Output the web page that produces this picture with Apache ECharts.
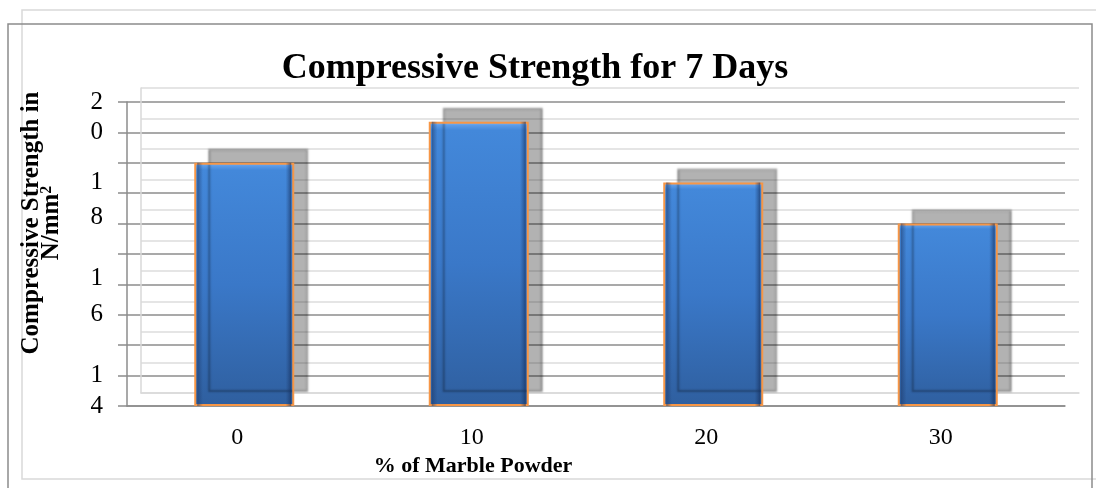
<!DOCTYPE html>
<html>
<head>
<meta charset="utf-8">
<script src="https://cdn.jsdelivr.net/npm/echarts@6/dist/echarts.min.js"></script>
<style>
html,body{margin:0;padding:0;background:#fff;}
#chart{width:1096px;height:488px;}
</style>
</head>
<body>
<div id="chart"></div>
<script>
// ---- data ----
const categories = ['0', '10', '20', '30'];
const strength7Days = [16.0, 18.7, 14.7, 12.0];
// tick labels as they appear on the axis, for ticks 0,2,4,...,20
const yTickLabels = ['4', '1', '', '6', '1', '', '8', '1', '', '0', '2'];
const titleText = 'Compressive Strength for 7 Days';
const xAxisTitle = '% of Marble Powder';
const yAxisTitleLine1 = 'Compressive Strength in';
const yAxisTitleLine2 = 'N/mm';

// ---- chart ----
const serif = '"Liberation Serif", "Times New Roman", serif';
// small vertical nudges (px, negative = up) of the broken tick labels
const labelNudge = {8: -6, 12: -6, 14: -11};
const rich = {};
function styleFor(v) {
  const s = labelNudge[v] || 0;
  const name = 'n' + (s < 0 ? 'u' + (-s) : 'd' + s);
  if (!rich[name]) {
    rich[name] = {
      fontFamily: serif, fontSize: 25, color: '#000', lineHeight: 16,
      padding: s < 0 ? [0, 0, -2 * s, 0] : [2 * s, 0, 0, 0]
    };
  }
  return name;
}
for (let i = 0; i < yTickLabels.length; i++) styleFor(i * 2);

const chart = echarts.init(document.getElementById('chart'), null, {renderer: 'canvas'});
const option = {
  animation: false,
  backgroundColor: '#fff',
  graphic: [
    {type: 'rect', shape: {x: 22, y: 10, width: 1100, height: 469}, style: {fill: 'none', stroke: '#d9d9d9', lineWidth: 1.5}, silent: true, z: -10},
    {type: 'rect', shape: {x: 8, y: 24, width: 1084, height: 500}, style: {fill: 'none', stroke: '#8c8c8c', lineWidth: 1.5}, silent: true, z: -9}
  ],
  title: {
    text: titleText,
    left: 535, top: 51, padding: 0, textAlign: 'center',
    textStyle: {fontFamily: serif, fontWeight: 'bold', fontSize: 36, color: '#000'}
  },
  grid: [
    {left: 127, right: 31, top: 102, bottom: 82},
    {left: 141, right: 17, top: 88, bottom: 95}
  ],
  xAxis: [
    {
      type: 'category', gridIndex: 0, data: categories,
      axisLine: {lineStyle: {color: '#8c8c8c', width: 1.5}},
      axisTick: {show: false},
      axisLabel: {fontFamily: serif, fontSize: 24, color: '#000', margin: 20, padding: [0, 14, 0, 0]},
      name: xAxisTitle, nameLocation: 'middle', nameGap: 46,
      nameTextStyle: {fontFamily: serif, fontWeight: 'bold', fontSize: 22, color: '#000', padding: [0, 246, 0, 0]}
    },
    {
      type: 'category', gridIndex: 1, data: categories,
      axisLine: {lineStyle: {color: '#d9d9d9', width: 1.5}},
      axisTick: {show: false}, axisLabel: {show: false}
    },
    {
      type: 'category', gridIndex: 0, data: categories, show: false
    }
  ],
  yAxis: [
    {
      type: 'value', gridIndex: 0, min: 0, max: 20, interval: 2,
      axisLine: {show: true, lineStyle: {color: '#8c8c8c', width: 1.5}},
      axisTick: {show: true, length: 9, lineStyle: {color: '#8c8c8c', width: 1.5}},
      splitLine: {lineStyle: {color: '#8c8c8c', width: 1.5}},
      axisLabel: {
        margin: 24, interval: 0, fontFamily: serif, fontSize: 25, color: '#000', lineHeight: 16,
        showMinLabel: true, showMaxLabel: true, hideOverlap: false,
        formatter: function (v) {
          const t = yTickLabels[Math.round(v / 2)];
          return t ? '{' + styleFor(v) + '|' + t + '}' : '';
        },
        rich: rich
      },
      name: '{a|' + yAxisTitleLine1 + '}\n{a|' + yAxisTitleLine2 + '}{sup|2}',
      nameLocation: 'middle', nameRotate: 90, nameGap: 65,
      nameTextStyle: {
        padding: [0, 0, 0, 62],
        rich: {
          a: {fontFamily: serif, fontWeight: 'bold', fontSize: 25, color: '#000', lineHeight: 20},
          sup: {fontFamily: serif, fontWeight: 'bold', fontSize: 16, color: '#000', lineHeight: 20, padding: [0, 0, 10, 0]}
        }
      }
    },
    {
      type: 'value', gridIndex: 1, min: 0, max: 20, interval: 2,
      axisLine: {show: true, lineStyle: {color: '#d9d9d9', width: 1.5}},
      axisTick: {show: false}, axisLabel: {show: false},
      splitLine: {lineStyle: {color: '#dcdcdc', width: 1.5}}
    }
  ],
  series: [
    {
      type: 'bar', xAxisIndex: 0, yAxisIndex: 0, data: strength7Days, barWidth: 100, z: 3,
      itemStyle: {
        color: new echarts.graphic.LinearGradient(0, 0, 0, 1, [
          {offset: 0, color: '#8cc0f4'},
          {offset: 0.012, color: '#5d9ce8'},
          {offset: 0.03, color: '#4388da'},
          {offset: 0.5, color: '#3a78c8'},
          {offset: 1, color: '#2f5f9f'}
        ]),
        borderColor: '#f79646', borderWidth: 2,
        shadowColor: 'rgba(0,0,0,0.3)', shadowOffsetX: 14, shadowOffsetY: -14, shadowBlur: 2
      }
    },
    {
      type: 'bar', xAxisIndex: 2, yAxisIndex: 0, data: strength7Days, barWidth: 94, z: 4,
      silent: true,
      itemStyle: {
        color: new echarts.graphic.LinearGradient(0, 0, 1, 0, [
          {offset: 0, color: 'rgba(30,60,110,0.6)'},
          {offset: 0.06, color: 'rgba(30,60,110,0.0)'},
          {offset: 0.94, color: 'rgba(30,60,110,0.0)'},
          {offset: 1, color: 'rgba(20,45,90,0.65)'}
        ])
      }
    }
  ]
};
chart.setOption(option);
</script>
</body>
</html>
